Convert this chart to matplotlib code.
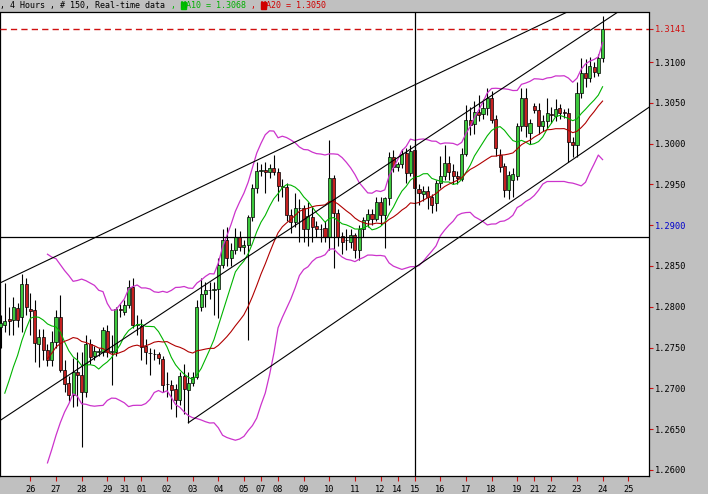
import matplotlib.pyplot as plt
import numpy as np
import pandas as pd
from matplotlib.patches import Rectangle

# 4H candles, bar 0 = first bar visible at the left edge
opens = [
    1.2775, 1.2778, 1.2785, 1.2784, 1.2799, 1.2787, 1.2828, 1.2797, 1.2796, 1.2755,
    1.2763, 1.2747, 1.2735, 1.2757, 1.2788, 1.2723, 1.2707, 1.2692, 1.2720, 1.2717,
    1.2695, 1.2755, 1.2740, 1.2745, 1.2745, 1.2770, 1.2745, 1.2745, 1.2797, 1.2794,
    1.2802, 1.2824, 1.2778, 1.2776, 1.2752, 1.2743, 1.2742, 1.2742, 1.2736, 1.2705,
    1.2704, 1.2699, 1.2686, 1.2715, 1.2698, 1.2707, 1.2714, 1.2800, 1.2816, 1.2820,
    1.2820, 1.2822, 1.2851, 1.2882, 1.2860, 1.2870, 1.2886, 1.2873, 1.2876, 1.2910,
    1.2946, 1.2966, 1.2968, 1.2965, 1.2970, 1.2965, 1.2948, 1.2947, 1.2912, 1.2904,
    1.2921, 1.2921, 1.2895, 1.2910, 1.2899, 1.2895, 1.2896, 1.2885, 1.2958, 1.2915,
    1.2887, 1.2882, 1.2880, 1.2888, 1.2870, 1.2895, 1.2906, 1.2914, 1.2908, 1.2929,
    1.2912, 1.2933, 1.2983, 1.2971, 1.2975, 1.2988, 1.2964, 1.2992, 1.2944, 1.2938,
    1.2942, 1.2935, 1.2927, 1.2952, 1.2960, 1.2976, 1.2966, 1.2960, 1.2957, 1.2987,
    1.3029, 1.3024, 1.3039, 1.3036, 1.3044, 1.3056, 1.3030, 1.2986, 1.2973, 1.2943,
    1.2955, 1.2960, 1.3021, 1.3056, 1.3013, 1.3046, 1.3041, 1.3021, 1.3028, 1.3036,
    1.3034, 1.3044, 1.3039, 1.3038, 1.3002, 1.2998, 1.3062, 1.3087, 1.3080, 1.3094,
    1.3086, 1.3105]
highs = [
    1.2790, 1.2829, 1.2800, 1.2812, 1.2805, 1.2840, 1.2835, 1.2817, 1.2808, 1.2773,
    1.2773, 1.2755, 1.2770, 1.2796, 1.2815, 1.2735, 1.2715, 1.2737, 1.2745, 1.2745,
    1.2765, 1.2760, 1.2752, 1.2750, 1.2775, 1.2778, 1.2765, 1.2800, 1.2803, 1.2808,
    1.2833, 1.2835, 1.2790, 1.2785, 1.2760, 1.2750, 1.2748, 1.2745, 1.2740, 1.2720,
    1.2710, 1.2705, 1.2720, 1.2730, 1.2720, 1.2720, 1.2808, 1.2835, 1.2830, 1.2830,
    1.2830, 1.2860, 1.2895, 1.2898, 1.2878, 1.2897, 1.2893, 1.2882, 1.2912, 1.2950,
    1.2977, 1.2975, 1.2978, 1.2975, 1.2986, 1.2970, 1.2957, 1.2952, 1.2920, 1.2940,
    1.2932, 1.2925, 1.2928, 1.2922, 1.2905, 1.2902, 1.2905, 1.3005, 1.2962, 1.2920,
    1.2892, 1.2895, 1.2895, 1.2890, 1.2900, 1.2910, 1.2920, 1.2920, 1.2935, 1.2935,
    1.2935, 1.2990, 1.2992, 1.2978, 1.2993, 1.2995, 1.2998, 1.3000, 1.2950, 1.2948,
    1.2948, 1.2938, 1.2956, 1.2985, 1.2998, 1.2985, 1.2975, 1.2966, 1.2995, 1.3047,
    1.3045, 1.3052, 1.3060, 1.3055, 1.3068, 1.3065, 1.3035, 1.2993, 1.2976, 1.2966,
    1.2970, 1.3025, 1.3068, 1.3068, 1.3030, 1.3050, 1.3050, 1.3035, 1.3056, 1.3045,
    1.3055, 1.3048, 1.3042, 1.3044, 1.3008, 1.3075, 1.3105, 1.3104, 1.3106, 1.3100,
    1.3110, 1.3157]
lows = [
    1.2750, 1.2769, 1.2765, 1.2765, 1.2775, 1.2769, 1.2790, 1.2766, 1.2732, 1.2726,
    1.2735, 1.2727, 1.2727, 1.2750, 1.2720, 1.2695, 1.2685, 1.2677, 1.2678, 1.2628,
    1.2690, 1.2730, 1.2735, 1.2740, 1.2740, 1.2738, 1.2704, 1.2740, 1.2788, 1.2790,
    1.2798, 1.2774, 1.2765, 1.2735, 1.2730, 1.2716, 1.2735, 1.2730, 1.2695, 1.2690,
    1.2675, 1.2665, 1.2680, 1.2668, 1.2658, 1.2703, 1.2712, 1.2795, 1.2800, 1.2810,
    1.2790, 1.2786, 1.2848, 1.2850, 1.2850, 1.2865, 1.2868, 1.2865, 1.2759, 1.2905,
    1.2940, 1.2960, 1.2940, 1.2958, 1.2962, 1.2930, 1.2935, 1.2905, 1.2890, 1.2898,
    1.2880, 1.2880, 1.2875, 1.2880, 1.2885, 1.2880, 1.2880, 1.2870, 1.2848, 1.2875,
    1.2865, 1.2870, 1.2872, 1.2860, 1.2857, 1.2885, 1.2898, 1.2900, 1.2905, 1.2900,
    1.2872, 1.2925, 1.2965, 1.2966, 1.2970, 1.2952, 1.2960, 1.2938, 1.2925, 1.2930,
    1.2920, 1.2915, 1.2918, 1.2945, 1.2955, 1.2955, 1.2950, 1.2950, 1.2954, 1.2985,
    1.3010, 1.3012, 1.3028, 1.3030, 1.3035, 1.3025, 1.2985, 1.2965, 1.2935, 1.2932,
    1.2935, 1.2955, 1.3015, 1.3008, 1.3000, 1.3038, 1.3012, 1.3015, 1.3018, 1.3025,
    1.3028, 1.3030, 1.3032, 1.2977, 1.2984, 1.2984, 1.3056, 1.3070, 1.3076, 1.3082,
    1.3083, 1.3100]
closes = [
    1.2780, 1.2783, 1.2782, 1.2800, 1.2784, 1.2828, 1.2800, 1.2795, 1.2756, 1.2763,
    1.2747, 1.2735, 1.2757, 1.2788, 1.2723, 1.2705, 1.2692, 1.2720, 1.2717, 1.2695,
    1.2755, 1.2738, 1.2746, 1.2746, 1.2771, 1.2744, 1.2745, 1.2797, 1.2796, 1.2802,
    1.2824, 1.2778, 1.2778, 1.2751, 1.2745, 1.2743, 1.2742, 1.2737, 1.2704, 1.2705,
    1.2698, 1.2686, 1.2715, 1.2699, 1.2707, 1.2714, 1.2800, 1.2816, 1.2820, 1.2820,
    1.2822, 1.2851, 1.2882, 1.2860, 1.2870, 1.2886, 1.2873, 1.2876, 1.2910, 1.2946,
    1.2966, 1.2968, 1.2965, 1.2970, 1.2965, 1.2948, 1.2947, 1.2912, 1.2904, 1.2921,
    1.2921, 1.2895, 1.2911, 1.2898, 1.2895, 1.2895, 1.2885, 1.2958, 1.2915, 1.2885,
    1.2880, 1.2882, 1.2888, 1.2870, 1.2895, 1.2906, 1.2914, 1.2908, 1.2929, 1.2912,
    1.2933, 1.2983, 1.2971, 1.2975, 1.2987, 1.2964, 1.2991, 1.2945, 1.2939, 1.2942,
    1.2935, 1.2925, 1.2952, 1.2960, 1.2976, 1.2965, 1.2960, 1.2958, 1.2987, 1.3029,
    1.3023, 1.3039, 1.3035, 1.3044, 1.3056, 1.3029, 1.2995, 1.2971, 1.2943, 1.2962,
    1.2963, 1.3021, 1.3056, 1.3022, 1.3025, 1.3041, 1.3021, 1.3028, 1.3037, 1.3035,
    1.3043, 1.3038, 1.3038, 1.3002, 1.2998, 1.3062, 1.3087, 1.3081, 1.3095, 1.3088,
    1.3105, 1.3141]

# closes of the bars hidden left of the window (the MA / band lines start on them)
prior_closes = [1.2628, 1.2634, 1.2641, 1.2647, 1.2653, 1.2667, 1.2738, 1.2770]

day_labels = ['26', '27', '28', '29', '31', '01', '02', '03', '04', '05', '07', '08', '09',
              '10', '11', '12', '14', '15', '16', '17', '18', '19', '21', '22', '23', '24', '25']
day_bars = [7, 13, 19, 25, 29, 33, 39, 45, 51, 57, 61, 65, 71, 77, 83, 89, 93, 97,
            103, 109, 115, 121, 125, 129, 135, 141, 147]

price_ticks = [1.2600, 1.2650, 1.2700, 1.2750, 1.2800, 1.2850, 1.2900,
               1.2950, 1.3000, 1.3050, 1.3100]
bid = 1.3141
cross_bar = 97
cross_price = 1.2886

# trend lines as two (bar, price) anchors, and whether they run on to the left
trend_lines = [
    ((5, 1.2842), (61, 1.2982), True),
    ((0, 1.2661), (100, 1.3007), True),
    ((44, 1.2658), (140, 1.3002), False),
]

header = ", 4 Hours , # 150, Real-time data"
ma10_text = " , MA10 = 1.3068"
ma20_text = " , MA20 = 1.3050"

bg = '#c0c0c0'
green = '#3cc83c'
red = '#c42020'
mono = 'DejaVu Sans Mono'

fig = plt.figure(figsize=(7.08, 4.94), dpi=100, facecolor=bg)
ax = fig.add_axes([0, 1 - 476 / 494, 649 / 708, 463.5 / 494])
ax.set_facecolor('white')

x = np.arange(len(closes))
o, h, l, c = (np.array(v) for v in (opens, highs, lows, closes))
up = c >= o

ax.vlines(x, l, h, color='black', lw=0.8, zorder=2)
bottom = np.minimum(o, c)
height = np.maximum(np.abs(c - o), 0.00003)
ax.bar(x[up], height[up], bottom=bottom[up], width=0.72, color=green,
       edgecolor='black', lw=0.5, zorder=3)
ax.bar(x[~up], height[~up], bottom=bottom[~up], width=0.72, color=red,
       edgecolor='black', lw=0.5, zorder=3)

# moving averages and bollinger bands
allc = pd.Series(prior_closes + closes)
n0 = len(prior_closes)
ma10 = allc.rolling(10).mean().values[n0:]
ma20 = allc.rolling(20).mean().values[n0:]
sd20 = allc.rolling(20).std(ddof=0).values[n0:]
ax.plot(x, ma10, color='#00b400', lw=0.8, zorder=4)
ax.plot(x, ma20, color='#b00000', lw=0.8, zorder=4)
ax.plot(x, ma20 + 2 * sd20, color='#cc33cc', lw=0.9, zorder=4)
ax.plot(x, ma20 - 2 * sd20, color='#cc33cc', lw=0.9, zorder=4)

xmin, xmax = -0.12, 151.87
ymin, ymax = 1.25926, 1.31607

for (b1, p1), (b2, p2), left in trend_lines:
    k = (p2 - p1) / (b2 - b1)
    xs = np.array([xmin if left else b1, xmax])
    ax.plot(xs, p1 + k * (xs - b1), color='black', lw=0.8, zorder=5)

ax.axhline(bid, color='#d01010', lw=1.0, dashes=(4.5, 3), zorder=5)
ax.axvline(cross_bar, color='black', lw=0.9, zorder=5)
ax.axhline(cross_price, color='black', lw=0.9, zorder=5)

ax.set_xlim(xmin, xmax)
ax.set_ylim(ymin, ymax)

ax.yaxis.tick_right()
ax.set_yticks(price_ticks + [bid])
ax.set_yticklabels([f"{p:.4f}" for p in price_ticks] + [f"{bid:.4f}"],
                   family=mono, fontsize=6.2)
ax.tick_params(axis='y', colors='#d01010', labelcolor='black', length=3, width=0.8, pad=1.5)
for t, p in zip(ax.get_yticklabels(), price_ticks + [bid]):
    if p == bid:
        t.set_color('#d01010')
    elif abs(p - 1.29) < 1e-9:
        t.set_color('#0000cc')

ax.set_xticks(day_bars)
ax.set_xticklabels(day_labels, family=mono, fontsize=6.2)
ax.tick_params(axis='x', colors='#d01010', labelcolor='black', length=3.6, width=0.8, pad=3)

for s in ax.spines.values():
    s.set_color('black')
    s.set_linewidth(0.9)

# header line in the grey strip
cw = 0.602 * 6.0 * 100 / 72 / 708
ty = 1 - 8 / 494
fig.text(0.0, ty, header, family=mono, fontsize=6.0, color='black', va='baseline')
n1 = len(header)
fig.text(n1 * cw, ty, ma10_text, family=mono, fontsize=6.0, color='#00b000', va='baseline')
n2 = n1 + len(ma10_text)
fig.text(n2 * cw, ty, ma20_text, family=mono, fontsize=6.0, color='#d00000', va='baseline')
for pos, col in ((n1 + 3, '#00c000'), (n2 + 3, '#d00000')):
    fig.patches.append(Rectangle((pos * cw, ty - 1 / 494), cw, 7 / 494,
                                 transform=fig.transFigure, color=col, zorder=0))

fig.savefig('out.png', dpi=100, facecolor=bg)
